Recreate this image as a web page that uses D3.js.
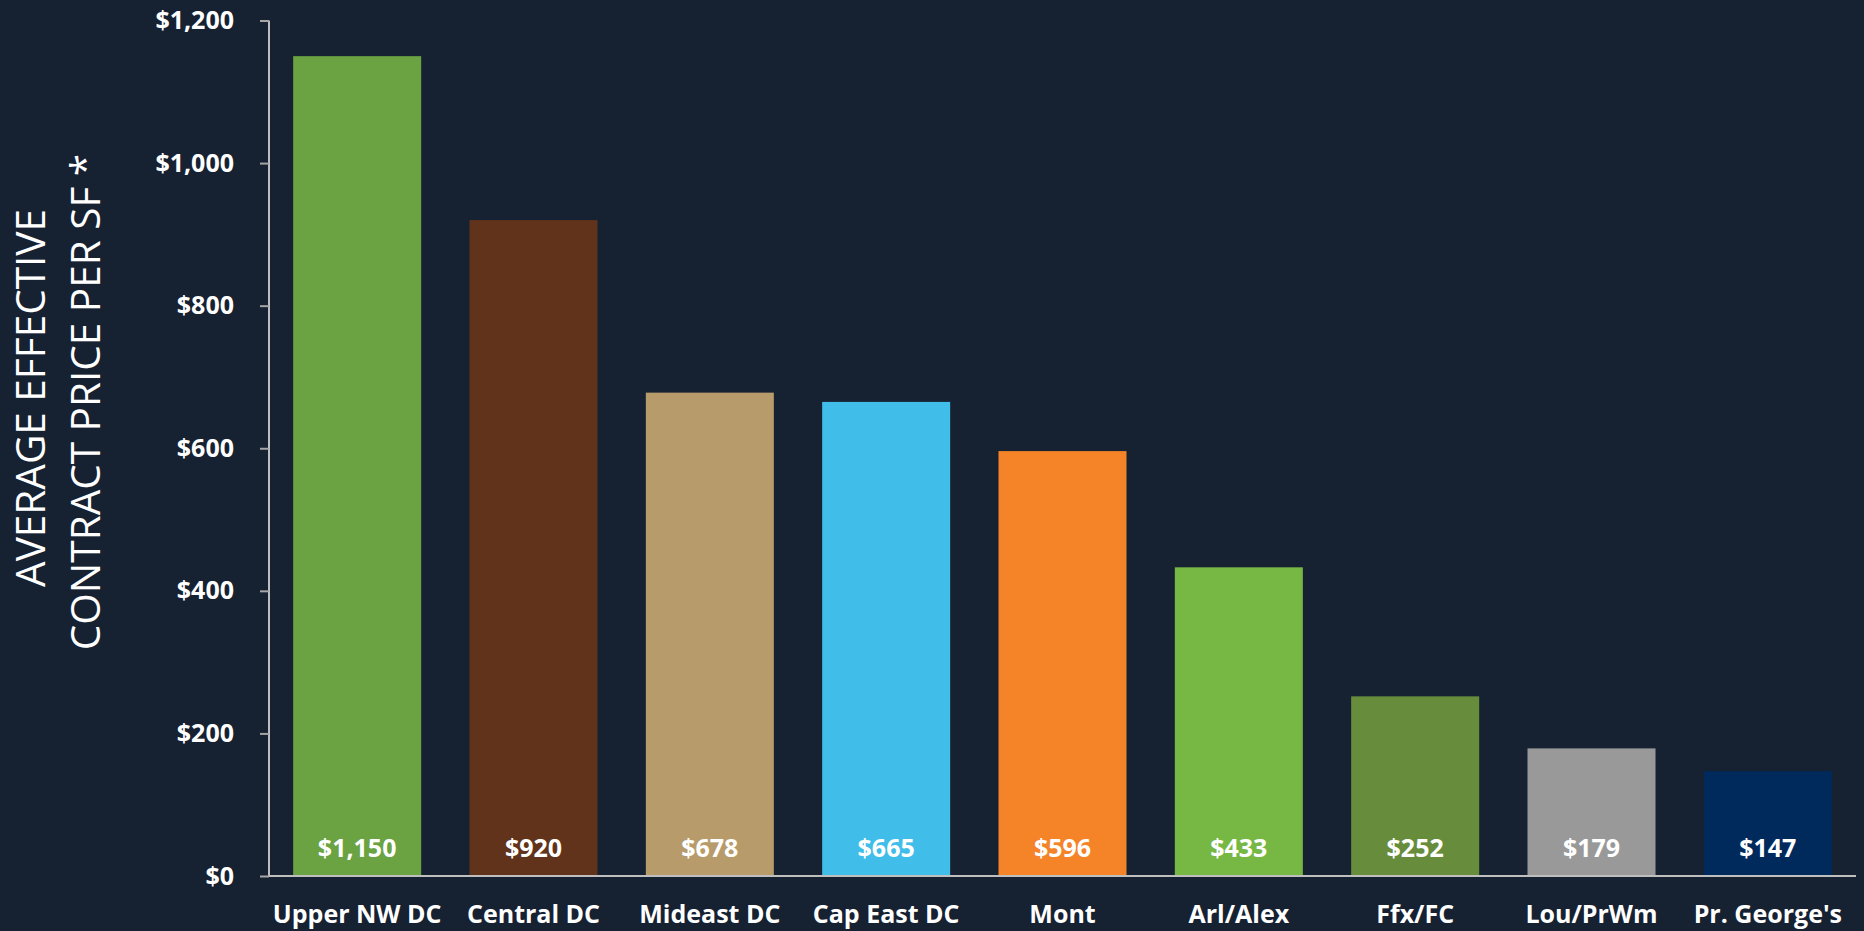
<!DOCTYPE html>
<html>
<head>
<meta charset="utf-8">
<script src="https://cdn.jsdelivr.net/npm/d3@7"></script>
<style>
  html, body { margin: 0; padding: 0; background: #162132; }
  svg { display: block; }
</style>
</head>
<body>
<svg id="chart" width="1864" height="931"></svg>
<script>
const categories = ["Upper NW DC", "Central DC", "Mideast DC", "Cap East DC", "Mont", "Arl/Alex", "Ffx/FC", "Lou/PrWm", "Pr. George's"];
const values = [1150, 920, 678, 665, 596, 433, 252, 179, 147];
const barColors = ["#6ba242", "#61331a", "#b89b6b", "#41bde9", "#f58428", "#76b843", "#678c3c", "#999999", "#002a5c"];
const yTicks = [0, 200, 400, 600, 800, 1000, 1200];
const titleLines = ["AVERAGE EFFECTIVE", "CONTRACT PRICE PER SF *"];

(function () {
const svg = d3.select("#chart");
const W = 1864, H = 931;
svg.append("rect").attr("width", W).attr("height", H).attr("fill", "#162132");

const mLeft = 269, mRight = 1856, mTop = 20.5, mBottom = 876;
const x = d3.scaleBand().domain(categories).range([mLeft, mRight]).paddingInner(0.274).paddingOuter(0.137);
const y = d3.scaleLinear().domain([0, 1200]).range([mBottom, mTop]);
const fmt = v => "$" + d3.format(",")(v);
const font = "'Open Sans', 'DejaVu Sans', sans-serif";

// bars
svg.append("g").selectAll("rect").data(values).join("rect")
  .attr("x", (d, i) => x(categories[i]))
  .attr("y", d => y(d))
  .attr("width", x.bandwidth())
  .attr("height", d => y(0) - y(d))
  .attr("fill", (d, i) => barColors[i]);

// value labels
svg.append("g").selectAll("text").data(values).join("text")
  .attr("x", (d, i) => x(categories[i]) + x.bandwidth() / 2)
  .attr("y", mBottom - 19)
  .attr("text-anchor", "middle")
  .attr("fill", "#ffffff")
  .attr("font-family", font)
  .attr("font-weight", 700)
  .attr("font-size", 25)
  .text(d => fmt(d));

// y axis
const yAxis = svg.append("g").attr("transform", `translate(${mLeft},0)`)
  .call(d3.axisLeft(y).tickValues(yTicks).tickFormat(fmt).tickSize(9).tickPadding(26));
yAxis.select(".domain").attr("stroke", "#bfbfbf").attr("stroke-width", 2).attr("d", `M0,${mTop}V${mBottom}`);
yAxis.selectAll(".tick line").attr("stroke", "#a6a6a6").attr("stroke-width", 2);
yAxis.selectAll(".tick text").attr("fill", "#ffffff").attr("font-family", font)
  .attr("font-weight", 700).attr("font-size", 25);

// x axis
const xAxis = svg.append("g").attr("transform", `translate(0,${mBottom})`)
  .call(d3.axisBottom(x).tickSize(0).tickPadding(0));
xAxis.select(".domain").attr("stroke", "#bfbfbf").attr("stroke-width", 2).attr("d", `M${mLeft},0H${mRight}`);
xAxis.selectAll(".tick text").attr("fill", "#ffffff").attr("font-family", font)
  .attr("font-weight", 700).attr("font-size", 25).attr("dy", 0).attr("y", 47);

// y title
const title = svg.append("text")
  .attr("transform", "translate(56,398) rotate(-90)")
  .attr("text-anchor", "middle")
  .attr("fill", "#ffffff")
  .attr("font-family", font)
  .attr("font-weight", 400)
  .attr("font-size", 40.5);
titleLines.forEach((t, i) => {
  title.append("tspan").attr("x", i === 0 ? 0 : -4).attr("y", i === 0 ? -11 : 44).text(t);
});
})();
</script>
</body>
</html>
